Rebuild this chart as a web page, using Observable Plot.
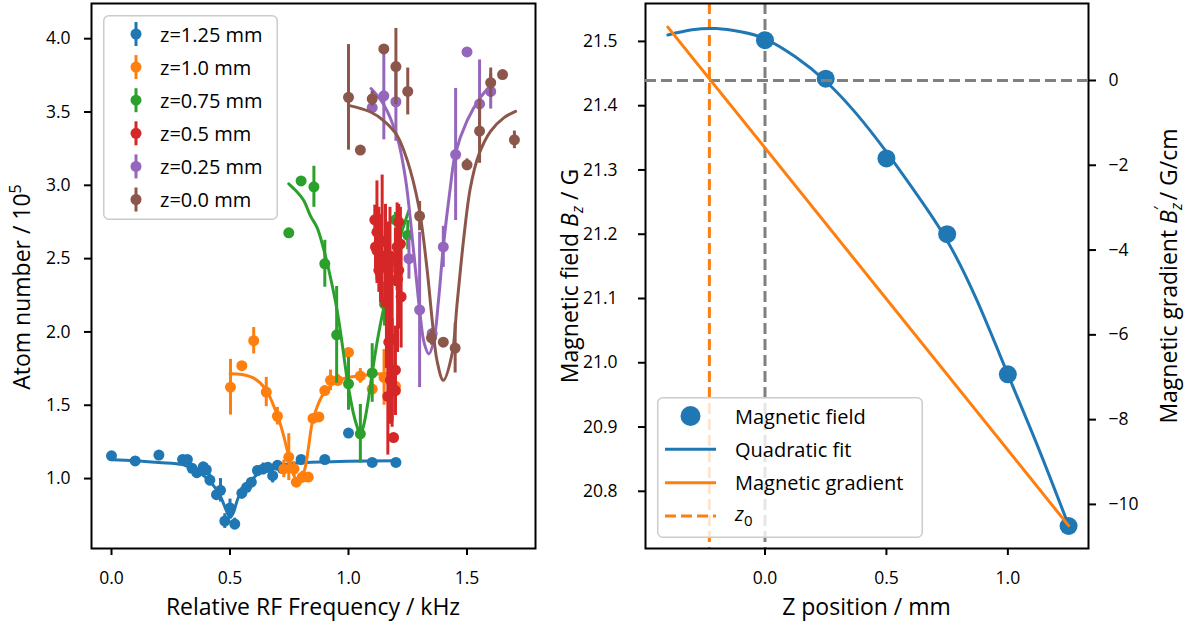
<!DOCTYPE html>
<html>
<head>
<meta charset="utf-8">
<script src="https://cdn.jsdelivr.net/npm/d3@7"></script>
<script src="https://cdn.jsdelivr.net/npm/@observablehq/plot@0.6"></script>
<style>
  body { margin: 0; background: #fff; font-family: "Open Sans", sans-serif; }
  #fig { position: relative; width: 1192px; height: 626px; overflow: hidden; }
  #fig svg.panel { position: absolute; top: 0; }
  #fig svg.legend { position: absolute; overflow: visible; }
</style>
</head>
<body>
<div id="fig"></div>
<script>
// ---------- Left panel: RF spectroscopy at several z positions ----------
// Each point: [relative RF frequency (kHz), atom number (1e5), error]
const pts125 = [
  [0, 1.155, 0.02], [0.10, 1.12, 0.02], [0.20, 1.16, 0.02], [0.30, 1.13, 0.02], [0.32, 1.13, 0.02],
  [0.34, 1.07, 0.03], [0.36, 1.04, 0.03], [0.387, 1.08, 0.03], [0.40, 1.06, 0.04], [0.415, 0.99, 0.04],
  [0.443, 0.89, 0.04], [0.46, 0.92, 0.08], [0.478, 0.71, 0.05], [0.50, 0.80, 0.06], [0.52, 0.69, 0.04],
  [0.55, 0.90, 0.04], [0.57, 0.94, 0.03], [0.59, 0.975, 0.03], [0.616, 1.055, 0.03], [0.64, 1.066, 0.04],
  [0.66, 1.077, 0.03], [0.68, 1.02, 0.05], [0.70, 1.09, 0.03], [0.72, 1.07, 0.02],
  [0.80, 1.13, 0.02], [0.90, 1.13, 0.02], [1.00, 1.31, 0.02], [1.10, 1.11, 0.02], [1.20, 1.11, 0.02]
];
const fit125 = [
  [0, 1.128], [0.1, 1.122], [0.2, 1.11], [0.3, 1.095], [0.35, 1.06], [0.41, 0.99], [0.457, 0.886],
  [0.485, 0.78], [0.50, 0.735], [0.515, 0.77], [0.535, 0.87], [0.577, 0.964], [0.633, 1.05],
  [0.703, 1.09], [0.8, 1.108], [1.0, 1.118], [1.2, 1.122]
];

const pts100 = [
  [0.502, 1.623, 0.19], [0.55, 1.77, 0], [0.60, 1.94, 0.09], [0.653, 1.59, 0.1], [0.70, 1.425, 0.06],
  [0.748, 1.146, 0.16], [0.727, 1.066, 0.06], [0.77, 1.066, 0.05], [0.78, 0.975, 0.03], [0.805, 1.01, 0.04],
  [0.83, 1.01, 0.03], [0.85, 1.41, 0.03], [0.875, 1.42, 0.02], [0.90, 1.60, 0.03], [0.924, 1.67, 0.07],
  [0.955, 1.67, 0.04], [1.0, 1.86, 0], [1.05, 1.70, 0.05], [1.10, 1.61, 0.03], [1.15, 1.69, 0.19],
  [1.198, 1.63, 0.02]
];
const fit100 = [
  [0.5, 1.715], [0.55, 1.71], [0.6, 1.685], [0.65, 1.61], [0.70, 1.43], [0.725, 1.30], [0.748, 1.15],
  [0.77, 1.02], [0.785, 0.985], [0.80, 1.0], [0.815, 1.06], [0.83, 1.2], [0.847, 1.38], [0.87, 1.50],
  [0.896, 1.58], [0.952, 1.665], [1.0, 1.69], [1.1, 1.71], [1.2, 1.72]
];

const pts075 = [
  [0.748, 2.676, 0], [0.80, 3.03, 0], [0.854, 2.99, 0.14], [0.90, 2.465, 0.16], [0.95, 1.98, 0.33],
  [1.0, 1.646, 0.18], [1.05, 1.305, 0.2], [1.10, 1.72, 0.2], [1.152, 2.19, 0.15], [1.198, 2.765, 0.05],
  [1.25, 2.66, 0.1]
];
const fit075 = [
  [0.748, 3.01], [0.78, 2.96], [0.81, 2.90], [0.84, 2.79], [0.868, 2.71], [0.896, 2.56], [0.92, 2.40],
  [0.952, 2.146], [0.975, 1.90], [0.995, 1.67], [1.02, 1.45], [1.037, 1.35], [1.05, 1.30], [1.065, 1.37],
  [1.08, 1.50], [1.10, 1.72], [1.125, 1.97], [1.152, 2.19], [1.2, 2.55], [1.255, 2.83]
];

const pts050 = [
  [1.111, 2.765, 0.1], [1.212, 2.75, 0.12], [1.12, 2.68, 0.35], [1.128, 2.60, 0.25], [1.114, 2.58, 0.15],
  [1.12, 2.555, 0.2], [1.135, 2.50, 0.3], [1.128, 2.42, 0.15], [1.142, 2.62, 0.45], [1.156, 2.52, 0.35],
  [1.165, 2.45, 0.3], [1.219, 2.60, 0.25], [1.198, 2.51, 0.2], [1.205, 2.58, 0.3], [1.212, 2.42, 0.4],
  [1.222, 2.24, 0.35], [1.17, 1.93, 0.3], [1.184, 1.74, 0.35], [1.198, 1.74, 0.3], [1.177, 1.67, 0.3],
  [1.166, 1.56, 0.4], [1.19, 1.28, 0], [1.16, 2.20, 0.45], [1.175, 2.35, 0.5], [1.184, 1.95, 0.6],
  [1.207, 2.36, 0.5], [1.198, 1.60, 0.17]
];

const pts025 = [
  [1.10, 3.53, 0.03], [1.149, 3.61, 0.3], [1.20, 3.57, 0.27], [1.255, 2.50, 0.14], [1.30, 2.15, 0.53],
  [1.353, 1.99, 0.03], [1.40, 2.58, 0.14], [1.452, 3.21, 0.45], [1.50, 3.91, 0], [1.553, 3.555, 0.3],
  [1.60, 3.64, 0.12]
];
const fit025 = [
  [1.095, 3.66], [1.149, 3.55], [1.205, 3.33], [1.24, 3.05], [1.276, 2.53], [1.30, 2.15], [1.32, 1.92],
  [1.339, 1.85], [1.36, 1.94], [1.38, 2.22], [1.40, 2.58], [1.43, 2.99], [1.45, 3.21], [1.50, 3.44],
  [1.557, 3.60], [1.6, 3.68]
];

const pts000 = [
  [1.0, 3.60, 0.36], [1.05, 3.24, 0], [1.10, 3.59, 0.05], [1.149, 3.93, 0.02], [1.20, 3.81, 0.26],
  [1.25, 3.64, 0.16], [1.30, 2.79, 0.1], [1.35, 1.96, 0.05], [1.40, 1.93, 0.03], [1.45, 1.89, 0.17],
  [1.50, 3.14, 0.04], [1.553, 3.37, 0.22], [1.60, 3.70, 0.1], [1.65, 3.755, 0], [1.70, 3.31, 0.06]
];
const fit000 = [
  [1.0, 3.545], [1.093, 3.50], [1.149, 3.44], [1.205, 3.34], [1.248, 3.17], [1.297, 2.85], [1.332, 2.42],
  [1.353, 2.08], [1.374, 1.80], [1.40, 1.67], [1.437, 1.85], [1.458, 2.19], [1.487, 2.65], [1.515, 2.99],
  [1.55, 3.21], [1.60, 3.37], [1.655, 3.46], [1.705, 3.505]
];

const seriesLabels = ["z=1.25 mm", "z=1.0 mm", "z=0.75 mm", "z=0.5 mm", "z=0.25 mm", "z=0.0 mm"];
const seriesColors = ["#1f77b4", "#ff7f0e", "#2ca02c", "#d62728", "#9467bd", "#8c564b"];
const seriesPoints = [pts125, pts100, pts075, pts050, pts025, pts000];
const seriesFits = [fit125, fit100, fit075, null, fit025, fit000];

const freqTicks = [0, 0.5, 1.0, 1.5];
const atomTicks = [1.0, 1.5, 2.0, 2.5, 3.0, 3.5, 4.0];

// ---------- Right panel: field profile along z ----------
const zPos = [0, 0.25, 0.5, 0.75, 1.0, 1.25];
const fieldBz = [21.502, 21.442, 21.318, 21.20, 20.982, 20.746];
const fitZ = [-0.4, -0.3, -0.2, -0.1, 0, 0.125, 0.25, 0.375, 0.5, 0.625, 0.75, 0.875, 1.0, 1.125, 1.25];
const fitBz = [21.510, 21.518, 21.520, 21.515, 21.504, 21.476, 21.438, 21.388, 21.328, 21.262, 21.19, 21.095, 20.982, 20.868, 20.747];
const gradZ = [-0.4, 1.25];
const gradG = [1.26, -10.5];
const zZero = -0.229;
const zTicks = [0, 0.5, 1.0];
const fieldTicks = [20.8, 20.9, 21.0, 21.1, 21.2, 21.3, 21.4, 21.5];
const gradTicks = [0, -2, -4, -6, -8, -10];

const fig = d3.select("#fig");
const baseStyle = { fontFamily: "Open Sans, sans-serif", fontSize: "17.5px", color: "black", background: "transparent", overflow: "visible" };
const fmt1 = d3.format(".1f");

// ---------- Left panel ----------
const left = Plot.plot({
  width: 600, height: 626,
  marginLeft: 91, marginRight: 65, marginTop: 3, marginBottom: 78,
  x: { domain: [-0.0844, 1.789] },
  y: { domain: [0.523, 4.24] },
  style: baseStyle,
  marks: [
    ...seriesPoints.flatMap((pts, i) => {
      const c = seriesColors[i];
      const m = [
        Plot.ruleX(pts.filter(d => d[2] > 0), { x: d => d[0], y1: d => d[1] - d[2], y2: d => d[1] + d[2], stroke: c, strokeWidth: 3 }),
        Plot.dot(pts, { x: d => d[0], y: d => d[1], r: 5.5, fill: c })
      ];
      if (seriesFits[i]) m.push(Plot.line(seriesFits[i], { x: d => d[0], y: d => d[1], stroke: c, strokeWidth: 3, curve: "catmull-rom" }));
      return m;
    }),
    Plot.axisX({ ticks: freqTicks, tickFormat: fmt1, tickSize: 7, tickPadding: 16, strokeWidth: 2, label: null }),
    Plot.axisY({ ticks: atomTicks, tickFormat: fmt1, tickSize: 7, tickPadding: 14, strokeWidth: 2, label: null }),
    Plot.frame({ stroke: "black", strokeWidth: 2 })
  ]
});
left.classList.add("panel");
left.style.left = "0px";
fig.node().appendChild(left);

// ---------- Right panel: field (left axis) ----------
const fitRows = fitZ.map((z, i) => ({ z, b: fitBz[i] }));
const fieldRows = zPos.map((z, i) => ({ z, b: fieldBz[i] }));
const right = Plot.plot({
  width: 592, height: 626,
  marginLeft: 45, marginRight: 104, marginTop: 3, marginBottom: 78,
  x: { domain: [-0.492, 1.332] },
  y: { domain: [20.711, 21.559] },
  style: baseStyle,
  marks: [
    Plot.ruleX([0], { stroke: "#808080", strokeWidth: 3, strokeDasharray: "11,5" }),
    Plot.ruleX([zZero], { stroke: "#ff7f0e", strokeWidth: 3, strokeDasharray: "11,5" }),
    Plot.line(fitRows, { x: "z", y: "b", stroke: "#1f77b4", strokeWidth: 3, curve: "natural" }),
    Plot.dot(fieldRows, { x: "z", y: "b", r: 9, fill: "#1f77b4" }),
    Plot.axisX({ ticks: zTicks, tickFormat: fmt1, tickSize: 7, tickPadding: 16, strokeWidth: 2, label: null }),
    Plot.axisY({ ticks: fieldTicks, tickFormat: fmt1, tickSize: 7, tickPadding: 21, strokeWidth: 2, label: null }),
    Plot.frame({ stroke: "black", strokeWidth: 2 })
  ]
});
right.classList.add("panel");
right.style.left = "600px";
fig.node().appendChild(right);

// ---------- Right panel: gradient (twin right axis) ----------
const gradRows = gradZ.map((z, i) => ({ z, g: gradG[i] }));
const twin = Plot.plot({
  width: 592, height: 626,
  marginLeft: 45, marginRight: 104, marginTop: 3, marginBottom: 78,
  x: { domain: [-0.492, 1.332], axis: null },
  y: { domain: [-11.04, 1.816] },
  style: baseStyle,
  marks: [
    Plot.ruleY([0], { stroke: "#808080", strokeWidth: 3, strokeDasharray: "11,5" }),
    Plot.line(gradRows, { x: "z", y: "g", stroke: "#ff7f0e", strokeWidth: 3 }),
    Plot.axisY({ anchor: "right", ticks: gradTicks, tickFormat: d3.format("d"), tickSize: 7, tickPadding: 13, strokeWidth: 2, label: null })
  ]
});
twin.classList.add("panel");
twin.style.left = "600px";
fig.node().appendChild(twin);

// ---------- Axis titles ----------
const labelSize = 23;
function rotLabel(svg, x, y) {
  return d3.select(svg).append("text")
    .attr("transform", `translate(${x},${y}) rotate(-90)`)
    .attr("text-anchor", "middle")
    .attr("font-size", labelSize)
    .attr("fill", "black");
}
function xLabel(svg, x, y, txt) {
  d3.select(svg).append("text")
    .attr("x", x).attr("y", y)
    .attr("text-anchor", "middle")
    .attr("font-size", labelSize)
    .attr("fill", "black")
    .text(txt);
}
xLabel(left, 313, 615, "Relative RF Frequency / kHz");
xLabel(right, 266.5, 615, "Z position / mm");

const t1 = rotLabel(left, 30, 287);
t1.append("tspan").text("Atom number / 10");
t1.append("tspan").attr("dy", -9).attr("font-size", 16).text("5");

const t2 = rotLabel(right, -22, 276);
t2.append("tspan").text("Magnetic field ");
t2.append("tspan").attr("font-style", "italic").text("B");
t2.append("tspan").attr("font-style", "italic").attr("dy", 5).attr("font-size", 16).text("z");
t2.append("tspan").attr("dy", -5).text(" / G");

const t3 = rotLabel(twin, 577, 276);
t3.append("tspan").text("Magnetic gradient ");
t3.append("tspan").attr("font-style", "italic").text("B");
t3.append("tspan").attr("font-style", "italic").attr("dy", 5).attr("font-size", 16).text("z");
t3.append("tspan").attr("dx", -7).attr("dy", -16).attr("font-size", 16).text("′");
t3.append("tspan").attr("dy", 11).text(" / G/cm");

// ---------- Legends ----------
function legendBox(x, y, w, h) {
  const svg = fig.append("svg").attr("class", "legend")
    .attr("width", w).attr("height", h)
    .style("left", x + "px").style("top", y + "px");
  svg.append("rect").attr("x", 0.75).attr("y", 0.75).attr("width", w - 1.5).attr("height", h - 1.5)
    .attr("rx", 5).attr("fill", "white").attr("fill-opacity", 0.8)
    .attr("stroke", "#cccccc").attr("stroke-width", 1.5);
  return svg;
}

const legL = legendBox(103, 15, 175, 205);
seriesLabels.forEach((lab, i) => {
  const cy = 19 + i * 33.1;
  legL.append("line").attr("x1", 33).attr("x2", 33).attr("y1", cy - 12).attr("y2", cy + 12)
    .attr("stroke", seriesColors[i]).attr("stroke-width", 3);
  legL.append("circle").attr("cx", 33).attr("cy", cy).attr("r", 5.5).attr("fill", seriesColors[i]);
  legL.append("text").attr("x", 57).attr("y", cy + 7.5).attr("font-size", 20).attr("fill", "black").text(lab);
});

const legR = legendBox(657, 397, 266, 141);
const rowY = [19, 52.3, 85.7, 119];
legR.append("circle").attr("cx", 33.5).attr("cy", rowY[0]).attr("r", 10).attr("fill", "#1f77b4");
legR.append("line").attr("x1", 8).attr("x2", 59).attr("y1", rowY[1]).attr("y2", rowY[1]).attr("stroke", "#1f77b4").attr("stroke-width", 3);
legR.append("line").attr("x1", 8).attr("x2", 59).attr("y1", rowY[2]).attr("y2", rowY[2]).attr("stroke", "#ff7f0e").attr("stroke-width", 3);
legR.append("line").attr("x1", 8).attr("x2", 59).attr("y1", rowY[3]).attr("y2", rowY[3]).attr("stroke", "#ff7f0e").attr("stroke-width", 3).attr("stroke-dasharray", "11,5");
const legTexts = ["Magnetic field", "Quadratic fit", "Magnetic gradient"];
legTexts.forEach((t, i) => {
  legR.append("text").attr("x", 78).attr("y", rowY[i] + 7.5).attr("font-size", 20).attr("fill", "black").text(t);
});
const z0 = legR.append("text").attr("x", 78).attr("y", rowY[3] + 5).attr("font-size", 20).attr("fill", "black");
z0.append("tspan").attr("font-style", "italic").text("z");
z0.append("tspan").attr("dy", 5).attr("font-size", 15).text("0");
</script>
</body>
</html>
